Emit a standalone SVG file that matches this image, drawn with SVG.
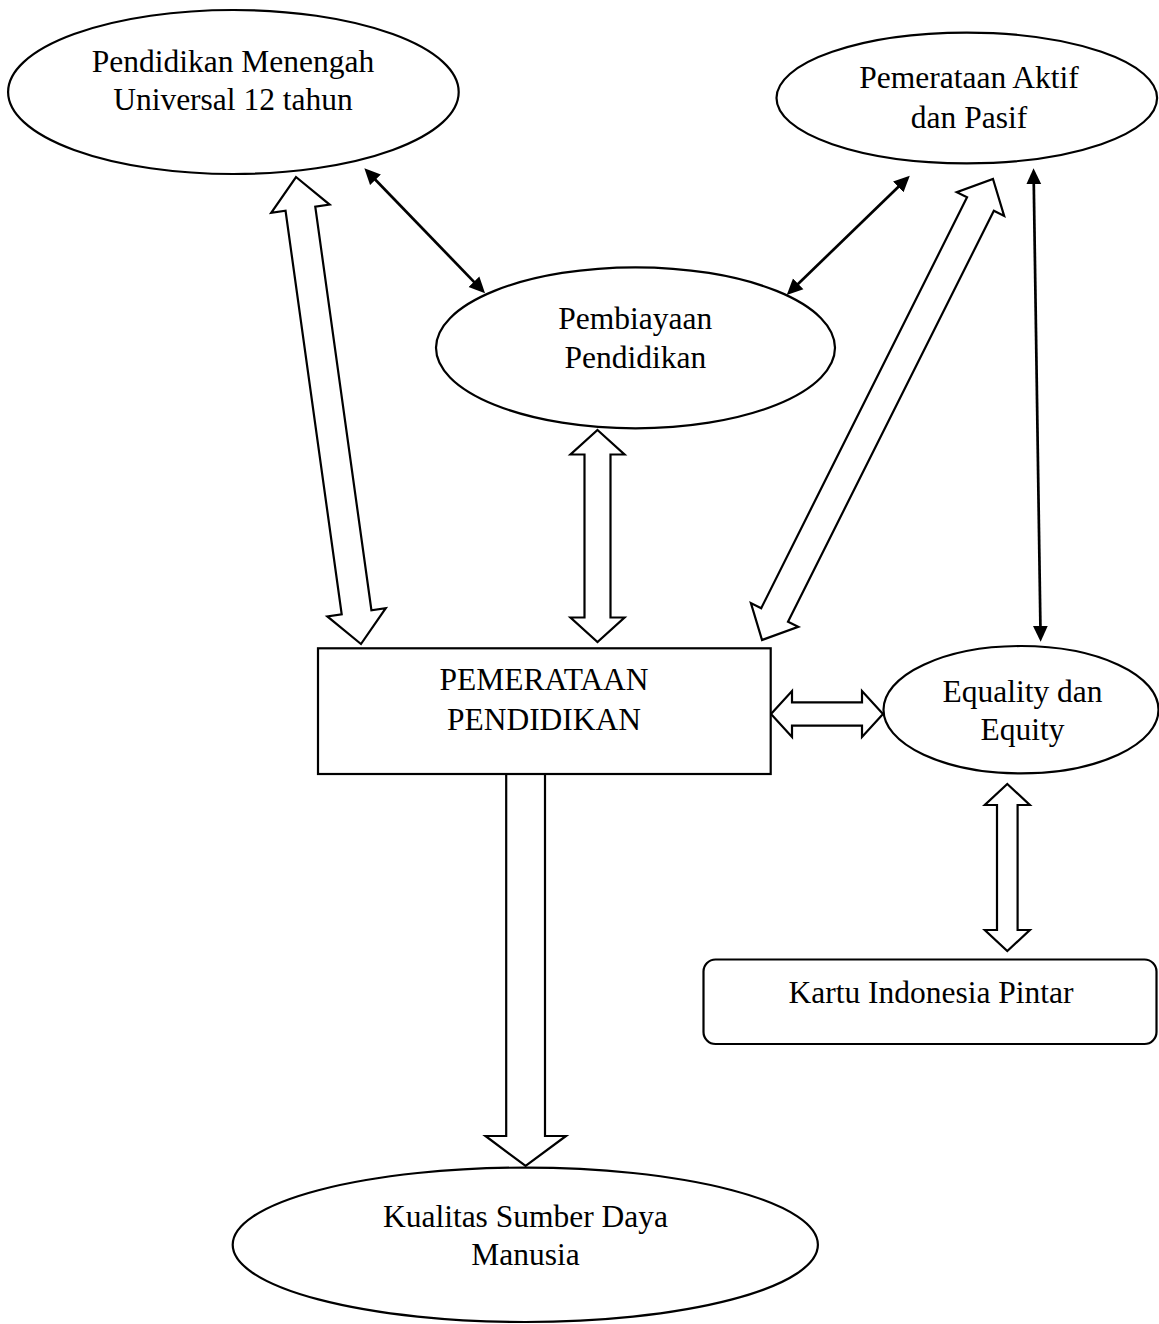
<svg xmlns="http://www.w3.org/2000/svg" width="1159" height="1324" viewBox="0 0 1159 1324">
<style>
.n{fill:#fff;stroke:#000;stroke-width:2.2}
.t{font-family:"Liberation Serif","Times New Roman",serif;font-size:31.5px;fill:#000;text-anchor:middle}
.ha{fill:#fff;stroke:#000;stroke-width:2.2;stroke-linejoin:miter}
.ln{stroke:#000;stroke-width:2.7;fill:none;marker-start:url(#ah);marker-end:url(#ah)}
</style>
<defs>
<marker id="ah" markerUnits="userSpaceOnUse" markerWidth="16" markerHeight="16" viewBox="0 0 16 16" refX="6" refY="8" orient="auto-start-reverse">
<path d="M0,0.5 L16,8 L0,15.5 z" fill="#000"/>
</marker>
</defs>
<rect width="1159" height="1324" fill="#fff"/>
<g id="connectors">
<polygon class="ha" transform="translate(296,177) rotate(82.08)" points="0,0 32,-29.5 32,-15 439.5,-15 439.5,-29.5 471.5,0 439.5,29.5 439.5,15 32,15 32,29.5"/>
<polygon class="ha" points="597.5,430 624.5,454.5 610.5,454.5 610.5,617.5 624.5,617.5 597.5,642 570.5,617.5 584.5,617.5 584.5,454.5 570.5,454.5"/>
<polygon class="ha" transform="translate(993,179) rotate(116.61)" points="0,0 28,-26.5 28,-15 487.6,-15 487.6,-26.5 515.6,0 487.6,26.5 487.6,15 28,15 28,26.5"/>
<polygon class="ha" points="771,714 792,691 792,702.3 862,702.3 862,691 883,714 862,737 862,725.7 792,725.7 792,737"/>
<polygon class="ha" points="1007.3,784 1029.8,805 1017.6,805 1017.6,930 1029.8,930 1007.3,951 984.8,930 997,930 997,805 984.8,805"/>
<polygon class="ha" points="506.2,774 545,774 545,1136 566,1136 525.6,1166 485.5,1136 506.2,1136"/>
<line class="ln" x1="371.3" y1="175.5" x2="478.1" y2="286.1"/>
<line class="ln" x1="793.9" y1="288" x2="902.6" y2="182.7"/>
<line class="ln" x1="1033.7" y1="178.3" x2="1040.5" y2="631.7"/>
</g>
<g id="pendidikan-menengah">
<ellipse class="n" cx="233.4" cy="92" rx="225.3" ry="82"/>
<text class="t" x="233" y="71.7">Pendidikan Menengah</text>
<text class="t" x="233" y="110">Universal 12 tahun</text>
</g>
<g id="pemerataan-aktif">
<ellipse class="n" cx="966.8" cy="98" rx="190.3" ry="65.3"/>
<text class="t" x="969" y="88.3">Pemerataan Aktif</text>
<text class="t" x="969" y="128.3">dan Pasif</text>
</g>
<g id="pembiayaan">
<ellipse class="n" cx="635.5" cy="347.8" rx="199.5" ry="80.5"/>
<text class="t" x="635.3" y="329">Pembiayaan</text>
<text class="t" x="635.3" y="368.3">Pendidikan</text>
</g>
<g id="pemerataan-pendidikan">
<rect class="n" x="318" y="648.3" width="452.7" height="125.7"/>
<text class="t" x="544" y="690">PEMERATAAN</text>
<text class="t" x="544" y="730">PENDIDIKAN</text>
</g>
<g id="equality">
<ellipse class="n" cx="1021" cy="709.7" rx="137.5" ry="63.7"/>
<text class="t" x="1022.5" y="701.7">Equality dan</text>
<text class="t" x="1022.5" y="740">Equity</text>
</g>
<g id="kartu">
<rect class="n" x="703.5" y="959.5" width="453" height="84.5" rx="12" ry="12"/>
<text class="t" x="931" y="1003.3">Kartu Indonesia Pintar</text>
</g>
<g id="kualitas">
<ellipse class="n" cx="525.3" cy="1244.8" rx="292.6" ry="77.2"/>
<text class="t" x="525.5" y="1227">Kualitas Sumber Daya</text>
<text class="t" x="525.5" y="1265.4">Manusia</text>
</g>
</svg>
